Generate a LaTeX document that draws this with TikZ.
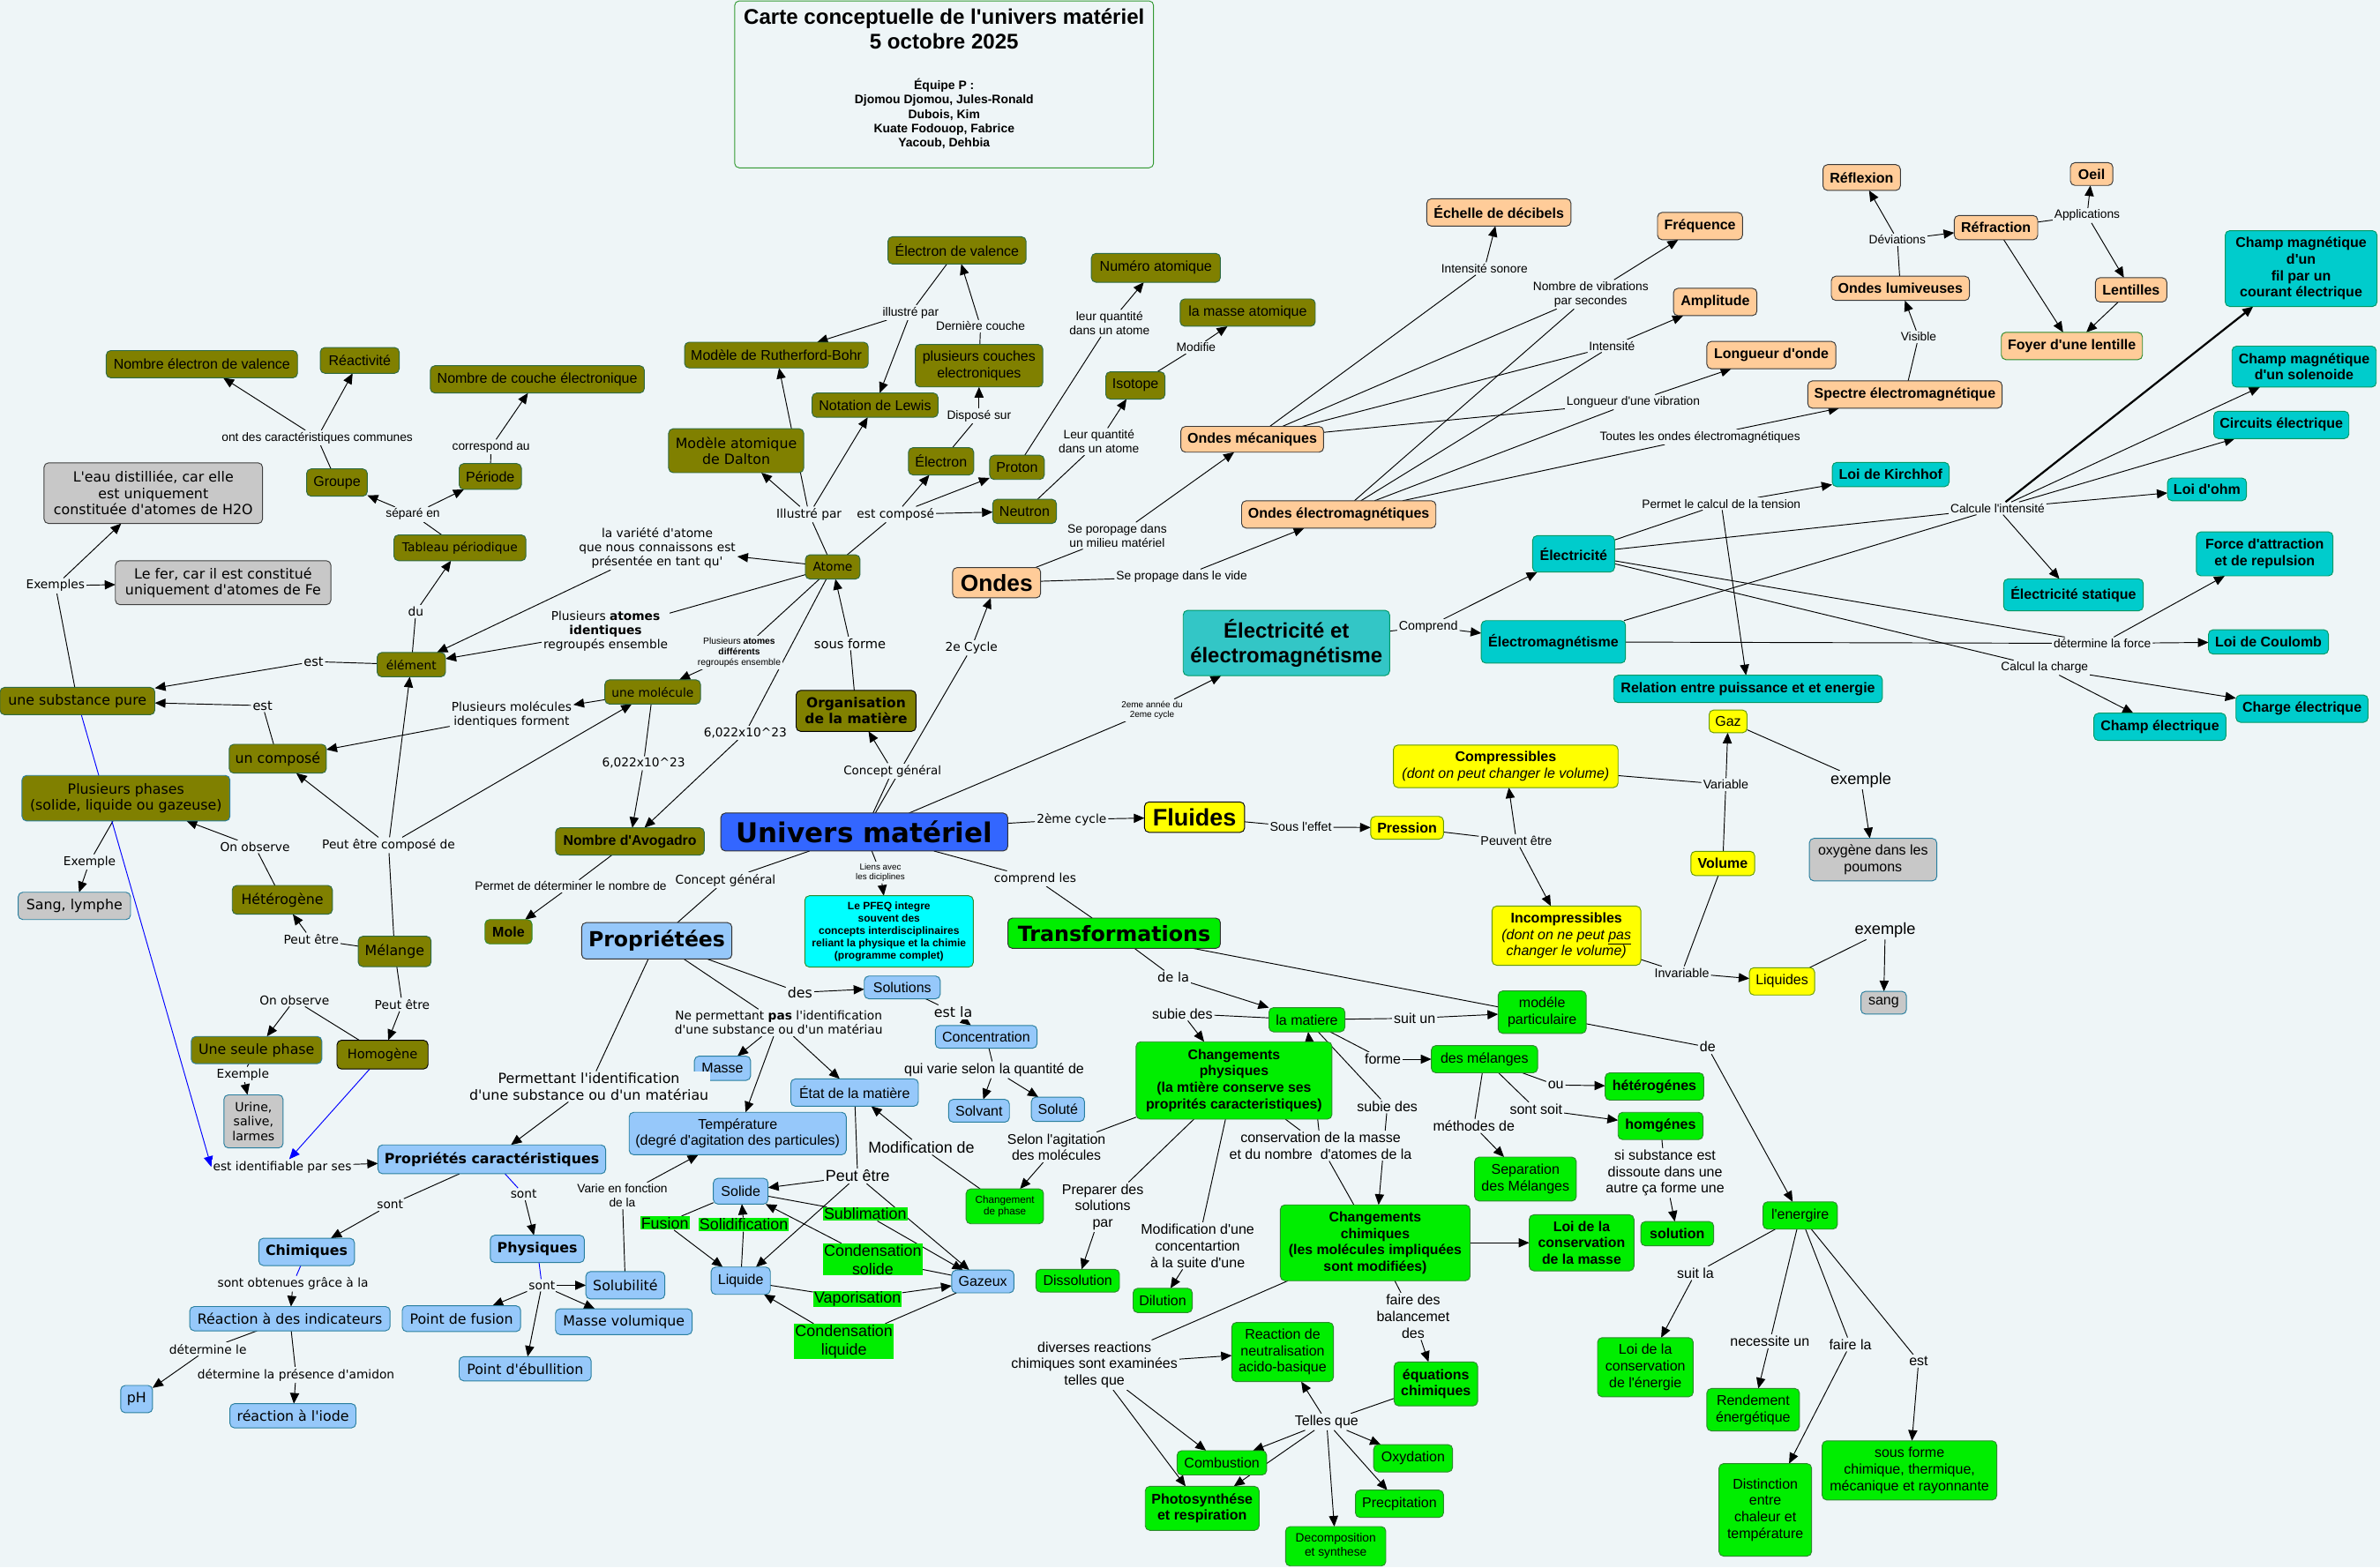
\documentclass[tikz,border=0pt]{standalone}
\usepackage{fontspec}
\setmainfont{Liberation Sans}[Ligatures=TeXOff]
\newfontfamily\dv{DejaVu Sans}[Ligatures=TeXOff]
\usetikzlibrary{arrows.meta}
\pgfdeclarelayer{bgl}
\pgfdeclarelayer{edl}
\pgfsetlayers{bgl,edl,main}
\definecolor{bgc}{HTML}{EEF5F7}
\definecolor{olv}{HTML}{808000}
\definecolor{olvb}{HTML}{2F6B45}
\definecolor{pch}{HTML}{FFCC99}
\definecolor{pchb}{HTML}{3A3A3A}
\definecolor{tel}{HTML}{00CCCC}
\definecolor{tel2}{HTML}{33C6C6}
\definecolor{telb}{HTML}{009966}
\definecolor{yel}{HTML}{FFFF00}
\definecolor{yelb}{HTML}{669900}
\definecolor{grn}{HTML}{00EE00}
\definecolor{grnb}{HTML}{2E8B2E}
\definecolor{lbl}{HTML}{96C8FA}
\definecolor{lblb}{HTML}{2A7F9F}
\definecolor{gry}{HTML}{C8C8C8}
\definecolor{gryb}{HTML}{404040}
\definecolor{uni}{HTML}{3366FF}
\definecolor{cyn}{HTML}{00FFFF}
\definecolor{titb}{HTML}{339933}
\newcommand\fz[1]{\fontsize{#1}{\fpeval{#1*1.17}}\selectfont}
\tikzset{
 cpt/.style={rounded corners=3pt, draw, line width=0.55pt, align=center, inner sep=1pt, outer sep=0pt},
 ol/.style={cpt, fill=olv, draw=olvb},
 pc/.style={cpt, fill=pch, draw=pchb},
 tl/.style={cpt, fill=tel, draw=telb},
 yl/.style={cpt, fill=yel, draw=yelb},
 gr/.style={cpt, fill=grn, draw=grnb},
 lb/.style={cpt, fill=lbl, draw=lblb},
 gy/.style={cpt, fill=gry, draw=gryb},
 sz/.style 2 args={minimum width=#1pt, minimum height=#2pt},
 A/.style={font=\fz{#1}},
 AB/.style={font=\bfseries\fz{#1}},
 D/.style={font=\dv\fz{#1}},
 DB/.style={font=\dv\bfseries\fz{#1}},
 lab/.style={align=center, inner sep=1pt, fill=bgc, font=\fz{8}},
 ph/.style={align=center, inner sep=0.6pt, fill=grn, font=\fz{10.4}},
 lk/.style={line width=0.55pt, draw=black},
 ar/.style={lk, -{Triangle[length=7pt,width=6pt]}},
}
\begin{document}
\begin{tikzpicture}[x=1pt,y=-1pt]
\useasboundingbox (0,0) rectangle (1568,1033);
\begin{pgfonlayer}{bgl}\fill[bgc] (0,0) rectangle (1568,1033);\end{pgfonlayer}

% ---------- title
\node[cpt, draw=titb, fill=bgc, sz={276}{110}] (title) at (622,55.6) {};
\node[AB=14, align=center, inner sep=0pt] (tt1) at (622,19) {Carte conceptuelle de l'univers matériel\\5 octobre 2025};
\node[AB=8.1, align=center, inner sep=0pt] (tt2) at (622,75) {Équipe P :\\Djomou Djomou, Jules-Ronald\\Dubois, Kim\\Kuate Fodouop, Fabrice\\Yacoub, Dehbia};

% ---------- left olive cluster
\node[ol,sz={126}{18},A=9.3] (nev) at (133,240) {Nombre électron de valence};
\node[ol,sz={52}{17},A=9.3] (reac) at (237,237.5) {Réactivité};
\node[ol,sz={141}{18},A=9.3] (ncou) at (354,250) {Nombre de couche électronique};
\node[ol,sz={40}{18},A=9.3] (grp) at (222,318) {Groupe};
\node[ol,sz={41}{17},A=9.3] (per) at (323,314) {Période};
\node[gy,sz={144}{40},D=9.2] (eau) at (101,325) {L'eau distilliée, car elle\\est uniquement\\constituée d'atomes de H2O};
\node[gy,sz={142}{29},D=9.2] (fer) at (147,384) {Le fer, car il est constitué\\uniquement d'atomes de Fe};
\node[ol,sz={87}{17},D=8] (tab) at (303,361) {Tableau périodique};
\node[ol,sz={45}{16},D=8] (elt) at (271,438) {élément};
\node[ol,sz={102}{18},D=9.2] (pure) at (51,462) {une substance pure};
\node[ol,sz={64}{19},D=9.2] (cmp) at (183,500) {un composé};
\node[ol,draw=lblb,sz={137}{30},D=9.2] (phas) at (83,526) {Plusieurs phases\\(solide, liquide ou gazeuse)};
\node[gy,draw=lblb,sz={74}{18},D=9.2] (sang1) at (49,597) {Sang, lymphe};
\node[ol,sz={66}{19},D=9.2] (het) at (186,593) {Hétérogène};
\node[ol,sz={48}{20},D=9.2] (mel) at (260,627) {Mélange};
\node[ol,draw=lblb,sz={86}{18},D=9.2] (seule) at (169,692) {Une seule phase};
\node[ol,draw=black,sz={60}{19},D=8.5] (homo) at (252,695) {Homogène};
\node[gy,draw=lblb,sz={39}{35},D=8.2] (urine) at (167,739) {Urine,\\salive,\\larmes};

% ---------- atom cluster
\node[ol,sz={36}{16},D=8] (atome) at (548.6,373.6) {Atome};
\node[ol,sz={63}{16},D=8] (mol) at (430,456) {une molécule};
\node[ol,sz={98}{18},AB=9.2] (avog) at (415,554.5) {Nombre d'Avogadro};
\node[ol,draw=grnb,sz={31}{16},AB=9.3] (mole) at (335,614) {Mole};
\node[ol,sz={89}{29},D=9.2] (dalton) at (485,297) {Modèle atomique\\de Dalton};
\node[ol,sz={121}{17},A=9.3] (ruth) at (511.5,234) {Modèle de Rutherford-Bohr};
\node[ol,sz={83}{16},A=9.3] (lewis) at (576.5,267) {Notation de Lewis};
\node[ol,sz={91}{18},A=9.3] (evl) at (630.5,165) {Électron de valence};
\node[ol,sz={84}{28},A=9.3] (couch) at (645,241) {plusieurs couches\\electroniques};
\node[ol,sz={43}{18},A=9.3] (eln) at (620,304) {Électron};
\node[ol,sz={36}{16},A=9.3] (prot) at (670,308) {Proton};
\node[ol,sz={42}{16},A=9.3] (neut) at (675,337) {Neutron};
\node[ol,sz={85}{19},A=9.3] (numat) at (761.5,176.5) {Numéro atomique};
\node[ol,sz={89}{18},A=9.3] (masat) at (822,206) {la masse atomique};
\node[ol,sz={39}{18},A=9.3] (iso) at (748,254) {Isotope};
\node[ol,draw=black,sz={79}{27},DB=9] (orga) at (564,468.5) {Organisation\\de la matière};

% ---------- waves
\node[pc,sz={58}{20},AB=15.3] (ondes) at (656.6,384) {Ondes};
\node[pc,sz={94}{17},AB=9.3] (omec) at (825,289.5) {Ondes mécaniques};
\node[pc,sz={128}{18},AB=9.3] (oem) at (882,339) {Ondes électromagnétiques};
\node[pc,sz={95}{18},AB=9.3] (decib) at (987.5,140) {Échelle de décibels};
\node[pc,sz={56}{18},AB=9.3] (freq) at (1120,149) {Fréquence};
\node[pc,sz={55}{18},AB=9.3] (ampl) at (1130,199) {Amplitude};
\node[pc,sz={85}{18},AB=9.3] (lgo) at (1167,234) {Longueur d'onde};
\node[pc,sz={51}{17},AB=9.3] (refl) at (1226.5,117) {Réflexion};
\node[pc,sz={28}{15},AB=9.3] (oeil) at (1378,114.7) {Oeil};
\node[pc,sz={55}{16},AB=9.3] (refr) at (1315,150) {Réfraction};
\node[pc,sz={91}{16},AB=9.3] (olum) at (1252,190) {Ondes lumiveuses};
\node[pc,sz={47}{16},AB=9.3] (lent) at (1404,191) {Lentilles};
\node[pc,draw=grnb,sz={93}{18},AB=9.3] (foyer) at (1365,228) {Foyer d'une lentille};
\node[pc,sz={128}{18},AB=9.3] (spec) at (1255,260) {Spectre électromagnétique};

% ---------- electricity
\node[tl,sz={100}{50},AB=9.3] (cmfil) at (1516,177) {Champ magnétique\\d'un\\fil par un\\courant électrique};
\node[tl,sz={95}{27},AB=9.3] (cmsol) at (1518,241.6) {Champ magnétique\\d'un solenoide};
\node[tl,sz={89}{18},AB=9.3] (circ) at (1503,280) {Circuits électrique};
\node[tl,sz={77}{16},AB=9.3] (kir) at (1245.6,312.7) {Loi de Kirchhof};
\node[tl,sz={52}{15},AB=9.3] (ohm) at (1454,322.5) {Loi d'ohm};
\node[tl,sz={90}{29},AB=9.3] (force) at (1492,365) {Force d'attraction\\et de repulsion};
\node[tl,sz={92}{21},AB=9.3] (estat) at (1366,392) {Électricité statique};
\node[tl,sz={54}{24},AB=9.3] (elc) at (1036.7,365) {Électricité};
\node[tl,sz={95}{28},AB=9.3] (emag) at (1023.4,423) {Électromagnétisme};
\node[tl,fill=tel2,sz={136}{43},AB=13.9] (ee) at (847.5,423.7) {Électricité et\\électromagnétisme};
\node[tl,sz={79}{16},AB=9.3] (coul) at (1494.5,423) {Loi de Coulomb};
\node[tl,sz={177}{18},AB=9.3] (rel) at (1151.6,454) {Relation entre puissance et et energie};
\node[tl,sz={87}{18},AB=9.3] (chg) at (1516.6,467) {Charge électrique};
\node[tl,sz={87}{18},AB=9.3] (che) at (1423,479) {Champ électrique};

% ---------- fluids
\node[yl,sz={25}{15},A=9.3] (gaz) at (1138.5,475.4) {Gaz};
\node[yl,sz={148}{28},A=9.3] (comp) at (992,505) {\textbf{Compressibles}\\\textit{(dont on peut changer le volume)}};
\node[yl,draw=black,sz={66}{20},AB=15.7] (flu) at (787,538.5) {Fluides};
\node[yl,sz={48}{15},AB=9.3] (pres) at (927,545.5) {Pression};
\node[yl,sz={42}{16},AB=9.3] (vol) at (1135,569) {Volume};
\node[yl,sz={98}{39},A=9.3] (incomp) at (1032,616.6) {\textbf{Incompressibles}\\\textit{(dont on ne peut \underline{pas}}\\\textit{changer le volume)}};
\node[yl,sz={43}{18},A=9.3] (liqd) at (1174,646.7) {Liquides};
\node[gy,draw=lblb,sz={84}{28},A=9.3] (oxy) at (1234,566.5) {oxygène dans les\\poumons};
\node[gy,draw=lblb,sz={30}{15},A=9.3] (sang2) at (1241,660.8) {sang};

% ---------- centre
\node[cpt,fill=uni,draw=black!80,sz={189}{25},DB=18] (univ) at (569.4,548.3) {Univers matériel};
\node[lb,draw=black!80,sz={99}{24},DB=13.7] (prop) at (432.7,620) {Propriétées};
\node[cpt,fill=cyn,draw=grnb,sz={111}{47},AB=7] (pfeq) at (585.7,613.8) {Le PFEQ integre\\souvent des\\concepts interdisciplinaires\\reliant la physique et la chimie\\(programme complet)};
\node[gr,draw=black!80,sz={140}{20},DB=13.8] (trans) at (734,615) {Transformations};

% ---------- properties
\node[lb,sz={50}{15},A=9.3] (solu) at (594.4,650.7) {Solutions};
\node[lb,sz={67}{15},A=9.3] (conc) at (649.7,683.3) {Concentration};
\node[lb,sz={37}{16},A=9.3] (masse) at (476,704) {Masse};
\node[lb,sz={84}{18},A=9.3] (etat) at (563,720) {État de la matière};
\node[lb,sz={40}{15},A=9.3] (solv) at (645,732) {Solvant};
\node[lb,sz={35}{16},A=9.3] (solt) at (697,731) {Soluté};
\node[lb,sz={143}{28},A=9.3] (temp) at (486,747) {Température\\(degré d'agitation des particules)};
\node[lb,sz={36}{17},A=9.3] (sol) at (488,785) {Solide};
\node[lb,sz={39}{18},A=9.3] (liq) at (488,844) {Liquide};
\node[lb,sz={41}{15},A=9.3] (gzx) at (647.5,844.5) {Gazeux};
\node[gr,sz={51}{23},A=6.8] (chph) at (662,795) {Changement\\de phase};
\node[lb,sz={150}{19},DB=9.2] (propc) at (324,764) {Propriétés caractéristiques};
\node[lb,sz={63}{18},DB=9.2] (chim) at (202,825) {Chimiques};
\node[lb,sz={62}{18},DB=9.2] (phys) at (354,823) {Physiques};
\node[lb,sz={52}{18},D=9.2] (solub) at (412,847) {Solubilité};
\node[lb,sz={132}{16},D=9.2] (rind) at (191,869) {Réaction à des indicateurs};
\node[lb,sz={78}{17},D=9.2] (pfus) at (304,869) {Point de fusion};
\node[lb,sz={90}{17},D=9.2] (mvol) at (411,871) {Masse volumique};
\node[lb,sz={87}{16},D=9.2] (pebu) at (346,902) {Point d'ébullition};
\node[lb,sz={21}{18},D=9.2] (phv) at (90,922) {pH};
\node[lb,sz={83}{16},D=9.2] (iode) at (193,933) {réaction à l'iode};
\node[ph] (lFus) at (438,806) {Fusion};
\node[ph] (lSol) at (490,807) {Solidification};
\node[ph] (lSub) at (570,800) {Sublimation};
\node[ph] (lCs) at (575,830) {Condensation\\solide};
\node[ph] (lVap) at (565,856) {Vaporisation};
\node[ph] (lCl) at (556,884) {Condensation\\liquide};

% ---------- transformations
\node[gr,sz={129}{51},AB=9.2] (chphy) at (813,712) {Changements\\physiques\\(la mtière conserve ses\\proprités caracteristiques)};
\node[gr,sz={50}{16},A=9.3] (mat) at (861,672) {la matiere};
\node[gr,sz={58}{28},A=9.3] (modp) at (1016,667) {modéle\\particulaire};
\node[gr,sz={70}{18},A=9.3] (dmel) at (978,698) {des mélanges};
\node[gr,sz={65}{18},AB=9.3] (hetg) at (1090,716) {hétérogénes};
\node[gr,sz={56}{18},AB=9.3] (homg) at (1094,742) {homgénes};
\node[gr,sz={67}{29},A=9.3] (sepm) at (1005,777) {Separation\\des Mélanges};
\node[gr,sz={48}{16},AB=9.3] (solnn) at (1105,813) {solution};
\node[gr,sz={125}{50},AB=9.2] (chchi) at (906,819) {Changements\\chimiques\\(les molécules impliquées\\sont modifiées)};
\node[gr,sz={69}{37},AB=9.2] (loim) at (1042,819) {Loi de la\\conservation\\de la masse};
\node[gr,sz={49}{18},A=9.3] (energ) at (1186,801) {l'energire};
\node[gr,sz={55}{15},A=9.3] (diss) at (710,844) {Dissolution};
\node[gr,sz={39}{16},A=9.3] (dil) at (766,857) {Dilution};
\node[gr,sz={67}{39},A=9.3] (neutr) at (845,891) {Reaction de\\neutralisation\\acido-basique};
\node[gr,sz={55}{29},AB=9.3] (equa) at (946,912) {équations\\chimiques};
\node[gr,sz={63}{39},A=9.3] (loie) at (1084,901) {Loi de la\\conservation\\de l'énergie};
\node[gr,sz={61}{28},A=9.3] (rend) at (1155,929) {Rendement\\énergétique};
\node[gr,sz={61}{61},A=9.3] (dist) at (1163,995) {Distinction\\entre\\chaleur et\\température};
\node[gr,sz={115}{39},A=9.3] (sousf) at (1258,969) {sous forme\\chimique, thermique,\\mécanique et rayonnante};
\node[gr,sz={59}{16},A=9.3] (comb) at (805,964) {Combustion};
\node[gr,sz={52}{18},A=9.3] (oxyd) at (931,961) {Oxydation};
\node[gr,sz={75}{29},AB=9.3] (photo) at (792,994) {Photosynthése\\et respiration};
\node[gr,sz={58}{18},A=9.3] (prec) at (922,991) {Precpitation};
\node[gr,sz={66}{26},A=8] (decomp) at (880,1019) {Decomposition\\et synthese};

% ---------- linking phrases
\node[lab] (lOcc) at (209,288.5) {ont des caractéristiques communes};
\node[lab] (lCorr) at (323.5,294.5) {correspond au};
\node[lab] (lSep) at (272,339) {séparé en};
\node[lab,D=8] (lDu) at (274,403) {du};
\node[lab,D=8] (lEx1) at (36.5,386) {Exemples};
\node[lab,D=8.5] (lEst1) at (206.6,436) {est};
\node[lab,D=8.5] (lEst2) at (173,465) {est};
\node[lab,D=8] (lVar) at (433,361) {la variété d'atome\\que nous connaissons est\\présentée en tant qu'};
\node[lab,D=8] (lIdent) at (399,416) {Plusieurs \textbf{atomes}\\\textbf{identiques}\\regroupés ensemble};
\node[lab,A=6] (lDiff) at (487,430) {Plusieurs \textbf{atomes}\\\textbf{différents}\\regroupés ensemble};
\node[lab,D=8] (lMolid) at (337,471) {Plusieurs molécules\\identiques forment};
\node[lab,D=8] (lIll1) at (533,339) {Illustré par};
\node[lab,D=8] (lComp) at (590,339) {est composé};
\node[lab] (lIll2) at (600,206) {illustré par};
\node[lab] (lDern) at (646,215) {Dernière couche};
\node[lab] (lDisp) at (645,274) {Disposé sur};
\node[lab] (lQt1) at (731,213) {leur quantité\\dans un atome};
\node[lab] (lModif) at (788,229) {Modifie};
\node[lab] (lQt2) at (724,291) {Leur quantité\\dans un atome};
\node[lab] (lMil) at (736,353) {Se poropage dans\\un milieu matériel};
\node[lab] (lVide) at (778.5,380) {Se propage dans le vide};
\node[lab] (lIsono) at (978,177) {Intensité sonore};
\node[lab] (lNbvib) at (1048,194) {Nombre de vibrations\\par secondes};
\node[lab] (lInt) at (1062,228) {Intensité};
\node[lab] (lLvib) at (1076,265) {Longueur d'une vibration};
\node[lab] (lToutes) at (1120,288) {Toutes les ondes électromagnétiques};
\node[lab] (lDev) at (1250,158) {Déviations};
\node[lab] (lAppl) at (1375,142) {Applications};
\node[lab] (lVis) at (1264,222) {Visible};
\node[lab] (lTens) at (1134,332) {Permet le calcul de la tension};
\node[lab] (lCint) at (1316,335) {Calcule l'intensité};
\node[lab] (lForce) at (1385,424) {détermine la force};
\node[lab] (lCharge) at (1347,440) {Calcul la charge};
\node[lab,A=8.3] (lCompr) at (941,413) {Comprend};
\node[lab,D=8.5] (lSform) at (560,424) {sous forme};
\node[lab,D=8] (l2ec) at (640,427) {2e Cycle};
\node[lab,D=8] (lAv1) at (491,483) {6,022x10\textasciicircum 23};
\node[lab,D=8] (lAv2) at (424,503) {6,022x10\textasciicircum 23};
\node[lab,A=5.8] (l2ea) at (759,468) {2eme année du\\2eme cycle};
\node[lab,D=7.8] (lCg1) at (588,508) {Concept général};
\node[lab,D=8] (l2emc) at (706,540) {2ème cycle};
\node[lab,A=8.3] (lEffet) at (857,545) {Sous l'effet};
\node[lab,A=8.3] (lPeuv) at (999,554) {Peuvent être};
\node[lab,A=8.3] (lVarb) at (1137,517) {Variable};
\node[lab,A=10.6] (lExg) at (1226,514) {exemple};
\node[lab,A=8.3] (lInvar) at (1108,641) {Invariable};
\node[lab,A=10.6] (lExl) at (1242,613) {exemple};
\node[lab,A=5.7] (lLiens) at (580,575) {Liens avec\\les diciplines};
\node[lab,D=8] (lCg2) at (478,580) {Concept général};
\node[lab,D=8] (lCompl) at (682,579) {comprend les};
\node[lab,D=8] (lPec) at (256,557) {Peut être composé de};
\node[lab,D=8] (lObs1) at (168,558) {On observe};
\node[lab,D=8] (lExs) at (59,568) {Exemple};
\node[lab] (lPdet) at (376,584) {Permet de déterminer le nombre de};
\node[lab,D=8] (lPe1) at (205,619) {Peut être};
\node[lab,D=8] (lPe2) at (265,662) {Peut être};
\node[lab,D=8] (lObs2) at (194,659) {On observe};
\node[lab,D=8] (lExu) at (160,708) {Exemple};
\node[lab,D=8] (lIdent2) at (186,769) {est identifiable par ses};
\node[lab,D=9.2] (lDes) at (527,654) {des};
\node[lab,D=9.2] (lEstla) at (628,667) {est la};
\node[lab,D=8] (lNepas) at (513,674) {Ne permettant \textbf{pas} l'identification\\d'une substance ou d'un matériau};
\node[lab,A=9.3] (lQvar) at (655,705) {qui varie selon la quantité de};
\node[lab,D=9.2] (lPerm) at (388,716) {Permettant l'identification\\d'une substance ou d'un matériau};
\node[lab,A=10.4] (lModde) at (607,756) {Modification de};
\node[lab,A=9.2] (lAgit) at (696,756) {Selon l'agitation\\des molécules};
\node[lab,A=10.4] (lPeut) at (565,775) {Peut être};
\node[lab,D=8] (lSont1) at (257,794) {sont};
\node[lab,D=8] (lSont2) at (345,787) {sont};
\node[lab] (lVarf) at (410,788) {Varie en fonction\\de la};
\node[lab,D=8] (lObten) at (193,846) {sont obtenues grâce à la};
\node[lab,D=8] (lSont3) at (357,847) {sont};
\node[lab,D=8] (lDetle) at (137,889) {détermine le};
\node[lab,D=8] (lAmid) at (195,906) {détermine la présence d'amidon};
\node[lab,D=8.5] (lDela) at (773,644) {de la};
\node[lab,A=9.3] (lSubie1) at (779,668) {subie des};
\node[lab,A=9.3] (lSuitun) at (932,671) {suit un};
\node[lab,A=9.3] (lForme) at (911,698) {forme};
\node[lab,A=9.3] (lOu) at (1025,715) {ou};
\node[lab,A=9.3] (lSontsoit) at (1012,731) {sont soit};
\node[lab,A=9.3] (lMeth) at (971,742) {méthodes de};
\node[lab,A=9.3] (lSubie2) at (914,729) {subie des};
\node[lab,A=9.3] (lCons) at (870,755) {conservation de la masse\\et du nombre\ \ d'atomes de la};
\node[lab,A=9.3] (lSisub) at (1097,773) {si substance est\\dissoute dans une\\autre ça forme une};
\node[lab,A=9.3] (lDe) at (1125,690) {de};
\node[lab,A=9.3] (lPrep) at (726.5,795.5) {Preparer des\\solutions\\par};
\node[lab,A=9.3] (lModc) at (789,821) {Modification d'une\\concentartion\\à la suite d'une};
\node[lab,A=9.3] (lFaire) at (931,867.5) {faire des\\balancemet\\des};
\node[lab,A=9.3] (lSuitla) at (1117,839) {suit la};
\node[lab,A=9.3] (lNecess) at (1166,884) {necessite un};
\node[lab,A=9.3] (lFairela) at (1219,886) {faire la};
\node[lab,A=9.3] (lEst3) at (1264,897) {est};
\node[lab,A=9.3] (lDivers) at (721,899.5) {diverses reactions\\chimiques sont examinées\\telles que};
\node[lab,A=9.3] (lTelles) at (874,937) {Telles que};

% ---------- connectors
\begin{pgfonlayer}{edl}
% left
\draw[lk] (grp) -- (lOcc); \draw[ar] (lOcc) -- (nev); \draw[ar] (lOcc) -- (reac);
\draw[lk] (tab) -- (lSep); \draw[ar] (lSep) -- (grp); \draw[ar] (lSep) -- (per);
\draw[lk] (per) -- (lCorr); \draw[ar] (lCorr) -- (ncou);
\draw[lk] (elt) -- (lDu); \draw[ar] (lDu) -- (tab);
\draw[lk] (pure) -- (lEx1); \draw[ar] (lEx1) -- (eau); \draw[ar] (lEx1) -- (fer);
\draw[lk] (elt) -- (lEst1); \draw[ar] (lEst1) -- (pure);
\draw[lk] (cmp) -- (lEst2); \draw[ar] (lEst2) -- (pure);
\draw[lk] (mel) -- (lPec); \draw[ar] (lPec) -- (cmp); \draw[ar] (lPec) -- (elt); \draw[ar] (lPec) -- (mol);
\draw[lk] (phas) -- (lExs); \draw[ar] (lExs) -- (sang1);
\draw[lk] (het) -- (lObs1); \draw[ar] (lObs1) -- (phas);
\draw[lk] (mel) -- (lPe1); \draw[ar] (lPe1) -- (het);
\draw[lk] (mel) -- (lPe2); \draw[ar] (lPe2) -- (homo);
\draw[lk] (homo) -- (lObs2); \draw[ar] (lObs2) -- (seule);
\draw[lk] (seule) -- (lExu); \draw[ar] (lExu) -- (urine);
\draw[ar,draw=blue] (pure) -- (lIdent2.west);
\draw[ar,draw=blue] (homo) -- (lIdent2);
\draw[ar] (lIdent2) -- (propc);
% atom
\draw[ar] (atome) -- (lVar); \draw[ar] (lVar) -- (elt);
\draw[lk] (atome) -- (lIdent); \draw[ar] (lIdent) -- (elt);
\draw[lk] (atome) -- (lDiff); \draw[ar] (lDiff) -- (mol);
\draw[ar] (mol) -- (lMolid); \draw[ar] (lMolid) -- (cmp);
\draw[lk] (mol) -- (lAv2); \draw[ar] (lAv2) -- (avog);
\draw[lk] (atome) -- (lAv1); \draw[ar] (lAv1) -- (avog);
\draw[lk] (avog) -- (lPdet); \draw[ar] (lPdet) -- (mole);
\draw[lk] (atome) -- (lIll1); \draw[ar] (lIll1) -- (dalton); \draw[ar] (lIll1) -- (ruth); \draw[ar] (lIll1) -- (lewis);
\draw[lk] (atome) -- (lComp); \draw[ar] (lComp) -- (eln); \draw[ar] (lComp) -- (prot); \draw[ar] (lComp) -- (neut);
\draw[lk] (evl) -- (lIll2); \draw[ar] (lIll2) -- (ruth); \draw[ar] (lIll2) -- (lewis);
\draw[lk] (couch) -- (lDern); \draw[ar] (lDern) -- (evl);
\draw[lk] (eln) -- (lDisp); \draw[ar] (lDisp) -- (couch);
\draw[lk] (prot) -- (lQt1); \draw[ar] (lQt1) -- (numat);
\draw[lk] (neut) -- (lQt2); \draw[ar] (lQt2) -- (iso);
\draw[lk] (iso) -- (lModif); \draw[ar] (lModif) -- (masat);
\draw[lk] (orga) -- (lSform); \draw[ar] (lSform) -- (atome);
% universe
\draw[lk] (univ) -- (lCg1); \draw[ar] (lCg1) -- (orga);
\draw[lk] (univ) -- (l2ec); \draw[ar] (l2ec) -- (ondes);
\draw[lk] (univ) -- (l2ea); \draw[ar] (l2ea) -- (ee);
\draw[lk] (univ) -- (l2emc); \draw[ar] (l2emc) -- (flu);
\draw[lk] (univ) -- (lLiens); \draw[ar] (lLiens) -- (pfeq);
\draw[lk] (univ) -- (lCg2); \draw[lk] (lCg2) -- (prop);
\draw[lk] (univ) -- (lCompl); \draw[lk] (lCompl) -- (trans);
% waves
\draw[lk] (ondes) -- (lMil); \draw[ar] (lMil) -- (omec);
\draw[lk] (ondes) -- (lVide); \draw[ar] (lVide) -- (oem);
\draw[lk] (omec) -- (lIsono); \draw[ar] (lIsono) -- (decib);
\draw[lk] (omec) -- (lNbvib); \draw[lk] (oem) -- (lNbvib); \draw[ar] (lNbvib) -- (freq);
\draw[lk] (omec) -- (lInt); \draw[lk] (oem) -- (lInt); \draw[ar] (lInt) -- (ampl);
\draw[lk] (omec) -- (lLvib); \draw[lk] (oem) -- (lLvib); \draw[ar] (lLvib) -- (lgo);
\draw[lk] (oem) -- (lToutes); \draw[ar] (lToutes) -- (spec);
\draw[lk] (spec) -- (lVis); \draw[ar] (lVis) -- (olum);
\draw[lk] (olum) -- (lDev); \draw[ar] (lDev) -- (refl); \draw[ar] (lDev) -- (refr);
\draw[lk] (refr) -- (lAppl); \draw[ar] (lAppl) -- (oeil); \draw[ar] (lAppl) -- (lent);
\draw[ar] (refr) -- (foyer); \draw[ar] (lent) -- (foyer);
% electricity
\draw[lk] (ee) -- (lCompr); \draw[ar] (lCompr) -- (elc); \draw[ar] (lCompr) -- (emag);
\draw[lk] (elc) -- (lTens); \draw[ar] (lTens) -- (kir); \draw[ar] (lTens) -- (rel);
\draw[lk] (elc) -- (lCint); \draw[lk] (emag) -- (lCint);
\draw[ar,line width=1.3pt] (lCint) -- (cmfil);
\draw[ar] (lCint) -- (cmsol); \draw[ar] (lCint) -- (circ); \draw[ar] (lCint) -- (ohm); \draw[ar] (lCint) -- (estat);
\draw[lk] (elc) -- (lForce); \draw[lk] (emag) -- (lForce); \draw[ar] (lForce) -- (force); \draw[ar] (lForce) -- (coul);
\draw[lk] (elc) -- (lCharge); \draw[ar] (lCharge) -- (che); \draw[ar] (lCharge) -- (chg);
% fluids
\draw[lk] (flu) -- (lEffet); \draw[ar] (lEffet) -- (pres);
\draw[lk] (pres) -- (lPeuv); \draw[ar] (lPeuv) -- (comp); \draw[ar] (lPeuv) -- (incomp);
\draw[lk] (comp) -- (lVarb); \draw[lk] (vol) -- (lVarb); \draw[ar] (lVarb) -- (gaz);
\draw[lk] (incomp) -- (lInvar); \draw[lk] (vol) -- (lInvar); \draw[ar] (lInvar) -- (liqd);
\draw[lk] (gaz) -- (lExg); \draw[ar] (lExg) -- (oxy);
\draw[lk] (liqd) -- (lExl); \draw[ar] (lExl) -- (sang2);
% properties
\draw[lk] (prop) -- (lPerm); \draw[ar] (lPerm) -- (propc);
\draw[lk] (propc) -- (lSont1); \draw[ar] (lSont1) -- (chim);
\draw[lk,draw=blue] (propc) -- (lSont2); \draw[ar] (lSont2) -- (phys);
\draw[lk,draw=blue] (chim) -- (lObten); \draw[ar] (lObten) -- (rind);
\draw[lk] (rind) -- (lDetle); \draw[ar] (lDetle) -- (phv);
\draw[lk] (rind) -- (lAmid); \draw[ar] (lAmid) -- (iode);
\draw[lk,draw=blue] (phys) -- (lSont3); \draw[ar] (lSont3) -- (solub); \draw[ar] (lSont3) -- (pfus); \draw[ar] (lSont3) -- (mvol); \draw[ar] (lSont3) -- (pebu);
\draw[lk] (solub) -- (lVarf); \draw[ar] (lVarf) -- (temp);
\draw[lk] (prop) -- (lNepas); \draw[ar] (lNepas) -- (masse); \draw[ar] (lNepas) -- (temp); \draw[ar] (lNepas) -- (etat);
\draw[lk] (prop) -- (lDes); \draw[ar] (lDes) -- (solu);
\draw[lk] (solu) -- (lEstla); \draw[ar] (lEstla) -- (conc);
\draw[lk] (conc) -- (lQvar); \draw[ar] (lQvar) -- (solv); \draw[ar] (lQvar) -- (solt);
\draw[lk] (etat) -- (lPeut); \draw[ar] (lPeut) -- (sol); \draw[ar] (lPeut) -- (liq); \draw[ar] (lPeut) -- (gzx);
\draw[lk] (chph) -- (lModde); \draw[ar] (lModde) -- (etat);
\draw[lk] (chphy) -- (lAgit); \draw[ar] (lAgit) -- (chph);
\draw[lk] (sol) -- (lFus); \draw[ar] (lFus) -- (liq);
\draw[lk] (liq) -- (lSol); \draw[ar] (lSol) -- (sol);
\draw[lk] (sol) -- (lSub); \draw[ar] (lSub) -- (gzx);
\draw[lk] (gzx) -- (lCs); \draw[ar] (lCs) -- (sol);
\draw[lk] (liq) -- (lVap); \draw[ar] (lVap) -- (gzx);
\draw[lk] (gzx) -- (lCl); \draw[ar] (lCl) -- (liq);
% transformations
\draw[lk] (trans) -- (lDela); \draw[ar] (lDela) -- (mat);
\draw[lk] (mat) -- (lSubie1); \draw[ar] (lSubie1) -- (chphy);
\draw[lk] (mat) -- (lSuitun); \draw[ar] (lSuitun) -- (modp);
\draw[lk] (mat) -- (lForme); \draw[ar] (lForme) -- (dmel);
\draw[lk] (mat) -- (lSubie2); \draw[ar] (lSubie2) -- (chchi);
\draw[lk] (trans) -- (lDe); \draw[ar] (lDe) -- (energ);
\draw[lk] (dmel) -- (lOu); \draw[ar] (lOu) -- (hetg);
\draw[lk] (dmel) -- (lSontsoit); \draw[ar] (lSontsoit) -- (homg);
\draw[lk] (dmel) -- (lMeth); \draw[ar] (lMeth) -- (sepm);
\draw[lk] (homg) -- (lSisub); \draw[ar] (lSisub) -- (solnn);
\draw[lk] (chphy) -- (lCons); \draw[lk] (chchi) -- (lCons); \draw[ar] (lCons) -- (mat);
\draw[lk] (chphy) -- (lPrep); \draw[ar] (lPrep) -- (diss);
\draw[lk] (chphy) -- (lModc); \draw[ar] (lModc) -- (dil);
\draw[ar] (chchi) -- (loim);
\draw[lk] (chchi) -- (lFaire); \draw[ar] (lFaire) -- (equa);
\draw[lk] (chchi) -- (lDivers); \draw[ar] (lDivers) -- (neutr); \draw[ar] (lDivers) -- (comb); \draw[ar] (lDivers) -- (photo);
\draw[lk] (equa) -- (lTelles); \draw[ar] (lTelles) -- (neutr); \draw[ar] (lTelles) -- (comb); \draw[ar] (lTelles) -- (photo);
\draw[ar] (lTelles) -- (oxyd); \draw[ar] (lTelles) -- (prec); \draw[ar] (lTelles) -- (decomp);
\draw[lk] (energ) -- (lSuitla); \draw[ar] (lSuitla) -- (loie);
\draw[lk] (energ) -- (lNecess); \draw[ar] (lNecess) -- (rend);
\draw[lk] (energ) -- (lFairela); \draw[ar] (lFairela) -- (dist);
\draw[lk] (energ) -- (lEst3); \draw[ar] (lEst3) -- (sousf);
\end{pgfonlayer}
\end{tikzpicture}
\end{document}
